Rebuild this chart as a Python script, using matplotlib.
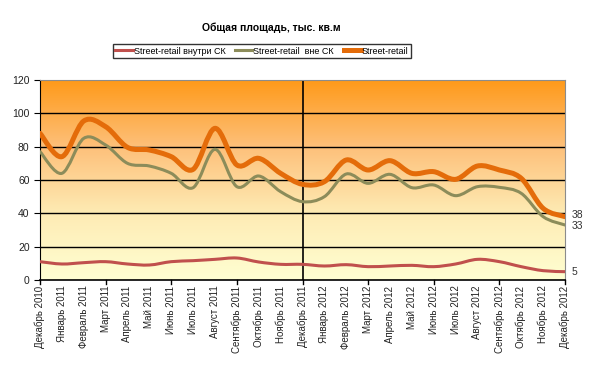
import numpy as np
import matplotlib.pyplot as plt
from matplotlib.path import Path
from matplotlib.patches import PathPatch
from matplotlib.colors import LinearSegmentedColormap

plt.rcParams['font.family'] = ['Liberation Sans', 'DejaVu Sans']

months = ['Декабрь 2010', 'Январь 2011', 'Февраль 2011', 'Март 2011', 'Апрель 2011',
          'Май 2011', 'Июнь 2011', 'Июль 2011', 'Август 2011', 'Сентябрь 2011',
          'Октябрь 2011', 'Ноябрь 2011', 'Декабрь 2011', 'Январь 2012', 'Февраль 2012',
          'Март 2012', 'Апрель 2012', 'Май 2012', 'Июнь 2012', 'Июль 2012',
          'Август 2012', 'Сентябрь 2012', 'Октябрь 2012', 'Ноябрь 2012', 'Декабрь 2012']

inside_sk = [11, 9.6, 10.4, 11, 9.6, 9, 11, 11.6, 12.4, 13.2, 10.8, 9.4, 9.4,
             8.4, 9.2, 8, 8.4, 8.8, 8, 9.6, 12.4, 11, 8, 5.6, 5]
outside_sk = [77, 64, 85, 81, 70, 68.4, 64, 55.4, 78.4, 56, 62.4, 53, 47,
              50, 63.6, 58, 63.4, 55.4, 57, 50.6, 56, 55.6, 52, 38, 33]
total = [88, 74, 95.4, 92, 79.6, 78, 74, 66.4, 91, 69, 73, 64, 57.4,
         59, 72, 66, 71.6, 64, 65, 60.4, 68.4, 66, 61, 43, 38]

labels = ['Street-retail внутри СК', 'Street-retail  вне СК', 'Street-retail']
colors = ['#C0504D', '#8C8C5A', '#E46C0A']
widths = [2.2, 2.2, 3.6]


def smooth_path(x, y):
    # Excel-style smoothed line: cubic Bezier segments (Catmull-Rom tangents)
    pts = np.column_stack([x, y]).astype(float)
    n = len(pts)
    verts = [pts[0]]
    codes = [Path.MOVETO]
    for i in range(n - 1):
        p0 = pts[i - 1] if i > 0 else pts[i]
        p1 = pts[i]
        p2 = pts[i + 1]
        p3 = pts[i + 2] if i + 2 < n else pts[i + 1]
        c1 = p1 + (p2 - p0) / 6.0
        c2 = p2 - (p3 - p1) / 6.0
        verts += [c1, c2, p2]
        codes += [Path.CURVE4] * 3
    return Path(verts, codes)


fig = plt.figure(figsize=(6.0, 3.68), dpi=100)
ax = fig.add_axes([40 / 600, 1 - 280 / 368, 525 / 600, 200 / 368])

x = np.arange(len(months))
ax.set_xlim(0, len(months) - 1)
ax.set_ylim(0, 120)

# gradient background
cmap = LinearSegmentedColormap.from_list('bg', ['#FFFFD2', '#FEEBB4', '#FDC07A', '#FF9A1A'])
grad = np.linspace(0, 1, 256).reshape(-1, 1)
ax.imshow(grad, cmap=cmap, aspect='auto', origin='lower',
          extent=[0, len(months) - 1, 0, 120], zorder=0)

for yv in [20, 40, 60, 80, 100]:
    ax.axhline(yv, color='black', lw=1.0, zorder=1)
ax.axvline(12, color='black', lw=1.2, zorder=1)

for vals, lab, c, w in zip([inside_sk, outside_sk, total], labels, colors, widths):
    patch = PathPatch(smooth_path(x, vals), facecolor='none', edgecolor=c, lw=w,
                      capstyle='round', joinstyle='round', zorder=3)
    ax.add_patch(patch)
    ax.plot([], [], color=c, lw=w, label=lab)

ax.text(len(months) - 1 + 0.3, total[-1] + 1.2, f'{total[-1]:.0f}', fontsize=7.5,
        color='#333333', va='center', ha='left', clip_on=False)
ax.text(len(months) - 1 + 0.3, outside_sk[-1] - 0.5, f'{outside_sk[-1]:.0f}', fontsize=7.5,
        color='#333333', va='center', ha='left', clip_on=False)
ax.text(len(months) - 1 + 0.3, inside_sk[-1], f'{inside_sk[-1]:.0f}', fontsize=7.5,
        color='#333333', va='center', ha='left', clip_on=False)

ax.set_xticks(x)
ax.set_xticklabels(months, rotation=90, fontsize=7, color='#222222')
ax.tick_params(axis='x', length=0, pad=4)
for xt in range(0, len(months), 3):
    ax.plot([xt, xt], [0, -2.2], color='black', lw=1, clip_on=False, zorder=4)

ax.set_yticks(range(0, 121, 20))
ax.tick_params(axis='y', labelsize=7.5, length=4, colors='#222222', direction='out')
ax.tick_params(axis='y', color='black')

ax.spines['left'].set_color('black')
ax.spines['bottom'].set_color('black')
ax.spines['bottom'].set_linewidth(1.2)
ax.spines['top'].set_color('#8C8C8C')
ax.spines['right'].set_color('#8C8C8C')

fig.suptitle('Общая площадь, тыс. кв.м', x=271 / 600, y=1 - 28 / 368, fontsize=7.5,
             fontweight='bold', va='center')
leg = fig.legend(loc='center', bbox_to_anchor=(262 / 600, 1 - 51 / 368), ncol=3,
                 fontsize=6.5, frameon=True, fancybox=False, handlelength=1.9,
                 handletextpad=0.1, columnspacing=1.1, borderpad=0.3)
leg.get_frame().set_edgecolor('black')
leg.get_frame().set_linewidth(1.0)

fig.savefig('out.png', dpi=100)
